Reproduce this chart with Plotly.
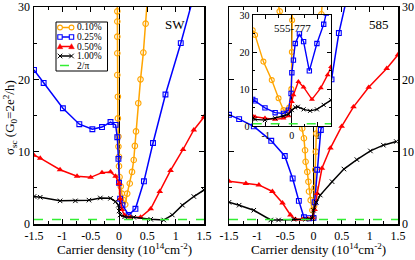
import numpy as np
import plotly.graph_objects as go

# ---------------- data ----------------
# Left panel: SW
sw_010_x = [-0.03, -0.03, -0.03, -0.03, -0.03, -0.03, -0.02, -0.02, -0.01, -0.01, 0.0, 0.0, 0.01, 0.03,
            0.05, 0.08, 0.11, 0.145, 0.19, 0.23, 0.26, 0.28, 0.30, 0.34, 0.38, 0.43, 0.47, 0.50]
sw_010_y = [31.0, 29.4, 28.0, 25.9, 23.6, 20.6, 17.6, 14.6, 12.1, 10.7, 9.3, 8.0, 6.5, 5.2,
            4.2, 3.3, 2.7, 4.2, 5.6, 7.2, 8.85, 10.8, 12.8, 16.7, 20.0, 23.7, 27.7, 31.0]
sw_025_x = [-1.5, -1.33, -0.99, -0.70, -0.47, -0.30, -0.15, -0.06, -0.03, -0.01, 0.0, 0.02, 0.06,
            0.17, 0.29, 0.44, 0.60, 0.82, 1.09, 1.30]
sw_025_y = [21.3, 19.5, 16.0, 13.8, 13.1, 13.4, 14.1, 13.7, 12.0, 9.0, 5.7, 3.5, 2.6,
            1.25, 2.1, 5.9, 11.2, 17.9, 25.0, 31.0]
sw_050_x = [-1.5, -1.39, -1.04, -0.74, -0.5, -0.3, -0.15, -0.06, 0.0, 0.02, 0.05, 0.1, 0.2, 0.38,
            0.56, 0.72, 0.91, 1.13, 1.32, 1.5]
sw_050_y = [9.5, 9.1, 7.5, 6.6, 6.45, 7.1, 7.2, 6.6, 5.6, 3.5, 2.0, 1.2, 0.93, 0.93,
            2.1, 4.5, 7.4, 10.3, 13.0, 14.8]
sw_100_x = [-1.5, -1.39, -1.04, -0.77, -0.53, -0.33, -0.15, -0.06, -0.01, 0.0, 0.02, 0.1, 0.26,
            0.56, 0.79, 0.94, 1.12, 1.32, 1.5]
sw_100_y = [3.8, 3.7, 3.2, 3.2, 3.3, 3.6, 3.55, 3.1, 2.6, 1.8, 1.25, 1.0, 0.93,
            0.65, 0.55, 1.25, 2.6, 3.8, 4.7]

# Right panel: 585
d585_010_x = [-0.64, -0.60, -0.20, -0.17, -0.15, -0.14, -0.11, -0.09, -0.08, -0.05, -0.02, 0.0,
              0.01, 0.02, 0.03, 0.04, 0.05, 0.14, 0.16]
d585_010_y = [31.0, 29.4, 13.2, 11.85, 10.2, 8.6, 7.2, 5.85, 4.5, 3.3, 1.9, 0.9,
              2.5, 5.0, 7.5, 10.0, 12.5, 29.0, 31.0]
d585_025_x = [-1.5, -1.32, -1.06, -0.75, -0.51, -0.37, -0.26, -0.17, -0.08, 0.0, 0.02, 0.065,
              0.13, 0.32, 0.45, 0.57]
d585_025_y = [15.1, 14.5, 13.5, 11.5, 9.4, 6.3, 3.2, 0.93, 0.8, 0.85, 3.0, 7.5,
              13.0, 20.0, 26.4, 30.5]
d585_050_x = [-1.5, -1.2, -0.97, -0.73, -0.55, -0.41, -0.32, -0.2, -0.1, -0.02, 0.02, 0.065,
              0.15, 0.3, 0.5, 0.71, 0.98, 1.3, 1.5]
d585_050_y = [5.9, 5.6, 5.4, 4.5, 2.9, 1.25, 0.65, 0.65, 0.7, 0.9, 2.0, 4.2,
              7.7, 10.5, 13.5, 16.2, 18.9, 21.5, 23.4]
d585_100_x = [-1.5, -1.32, -1.06, -0.76, -0.62, -0.35, -0.14, -0.02, 0.0, 0.05, 0.12, 0.33,
              0.54, 0.77, 1.01, 1.24, 1.47]
d585_100_y = [3.0, 2.6, 1.9, 0.55, 0.55, 0.65, 0.65, 0.8, 1.9, 3.0, 4.0, 5.85,
              7.6, 8.9, 10.1, 10.9, 11.4]

# Inset: 555-777
d555_010_x = [-1.5, -1.41, -1.09, -0.77, -0.51, -0.32, -0.19, -0.1, -0.02, 0.0, 0.01, 0.02]
d555_010_y = [25.9, 24.6, 17.4, 12.4, 7.5, 4.3, 3.9, 5.0, 10.0, 20.0, 28.6, 31.0]
d555_025_x = [-1.5, -1.41, -1.03, -0.64, -0.32, -0.13, -0.03, 0.0, 0.06, 0.13, 0.29, 0.45,
              0.67, 0.96, 1.22, 1.32]
d555_025_y = [7.2, 6.8, 4.9, 3.6, 3.4, 4.3, 8.8, 14.4, 17.8, 22.3, 24.9, 22.8,
              14.9, 22.3, 27.5, 30.5]
d555_050_x = [-1.5, -1.41, -1.03, -0.64, -0.32, -0.13, 0.0, 0.06, 0.25, 0.45, 0.77, 1.11, 1.37, 1.5]
d555_050_y = [2.7, 2.5, 2.1, 1.8, 2.1, 2.7, 6.6, 8.4, 12.0, 10.5, 7.2, 10.3, 13.8, 16.0]
d555_100_x = [-1.5, -1.41, -1.03, -0.64, -0.32, -0.13, 0.0, 0.13, 0.23, 0.45, 0.7, 0.96, 1.22, 1.5]
d555_100_y = [2.1, 1.8, 1.6, 2.1, 2.7, 3.2, 4.3, 5.0, 5.2, 4.5, 4.1, 4.5, 5.7, 7.0]

ref_level = 2 / np.pi  # 2/pi reference conductivity

series_labels = ["0.10%", "0.25%", "0.50%", "1.00%"]
ref_label = "2/π"
panel_labels = ["SW", "585", "555-777"]

x_tick_vals = [-1.5, -1.0, -0.5, 0.0, 0.5, 1.0, 1.5]
x_tick_text = ["-1.5", "-1", "-0.5", "0", "0.5", "1", "1.5"]
y_tick_vals = [0, 10, 20, 30]
y_tick_text = ["0", "10", "20", "30"]
inset_x_tick_vals = [-1, 0, 1]
inset_x_tick_text = ["-1", "0", "1"]

# ---------------- styling ----------------
SERIF = "Liberation Serif, Times New Roman, serif"
W, H = 415, 260
colors = ["#FFA500", "#0000FF", "#FF0000", "#000000"]
green = "#33EE33"


def px_x(p):
    return p / W


def px_y(p):
    return (H - p) / H


def marker_style(i, small=False):
    s = 0.9 if small else 1.0
    if i == 0:
        return dict(symbol="circle-open", size=5.5 * s, color=colors[0], line=dict(width=1.1, color=colors[0]))
    if i == 1:
        return dict(symbol="square-open", size=4.8 * s, color=colors[1], line=dict(width=1.1, color=colors[1]))
    if i == 2:
        return dict(symbol="triangle-up", size=5.8 * s, color=colors[2], line=dict(width=0, color=colors[2]))
    return dict(symbol="x-thin", size=4.5 * s, color=colors[3], line=dict(width=1, color=colors[3]))


fig = go.Figure()

panels = [
    ("x", "y", [(sw_010_x, sw_010_y), (sw_025_x, sw_025_y), (sw_050_x, sw_050_y), (sw_100_x, sw_100_y)], False),
    ("x2", "y2", [(d585_010_x, d585_010_y), (d585_025_x, d585_025_y), (d585_050_x, d585_050_y),
                  (d585_100_x, d585_100_y)], False),
    ("x3", "y3", [(d555_010_x, d555_010_y), (d555_025_x, d555_025_y), (d555_050_x, d555_050_y),
                  (d555_100_x, d555_100_y)], True),
]
for xa, ya, data, small in panels:
    for i, (xs, ys) in enumerate(data):
        fig.add_trace(go.Scatter(
            x=xs, y=ys, xaxis=xa, yaxis=ya, mode="lines+markers",
            name=series_labels[i], showlegend=False,
            line=dict(color=colors[i], width=1.5 if not small else 1.4),
            marker=marker_style(i, small),
        ))

# ---------------- axes ----------------
main_y_dom = [px_y(224), px_y(7)]


def x_axis(domain, anchor, small=False):
    return dict(
        domain=domain, anchor=anchor, range=[-1.5, 1.5], showgrid=False,
        showline=True, linecolor="black", linewidth=1.5 if not small else 1.2, mirror="ticks",
        ticks="inside", ticklen=5 if not small else 4, tickwidth=1, tickcolor="black",
        tickmode="array",
        tickvals=inset_x_tick_vals if small else x_tick_vals,
        ticktext=inset_x_tick_text if small else x_tick_text,
        tickfont=dict(family=SERIF, size=10 if small else 12, color="black"),
        minor=dict(ticks="inside", ticklen=3 if not small else 2.5, tickwidth=1, tickcolor="black",
                   tickmode="array",
                   tickvals=[-0.5, 0.5] if small else [-1.25, -0.75, -0.25, 0.25, 0.75, 1.25]),
        zeroline=True, zerolinecolor="black", zerolinewidth=1,
        automargin=False, fixedrange=True,
    )


def y_axis(domain, anchor, side="left", small=False):
    return dict(
        domain=domain, anchor=anchor, range=[0, 30], side=side, showgrid=False,
        showline=True, linecolor="black", linewidth=1.5 if not small else 1.2, mirror="ticks",
        ticks="inside", ticklen=5 if not small else 4, tickwidth=1, tickcolor="black",
        tickmode="array", tickvals=y_tick_vals, ticktext=y_tick_text,
        tickfont=dict(family=SERIF, size=10 if small else 12, color="black"),
        minor=dict(ticks="inside", ticklen=3 if not small else 2.5, tickwidth=1, tickcolor="black",
                   tickmode="array", tickvals=[5, 15, 25]),
        zeroline=False, automargin=False, fixedrange=True,
    )


fig.update_layout(
    width=W, height=H,
    margin=dict(l=0, r=0, t=0, b=0),
    paper_bgcolor="#FFFFFF",
    plot_bgcolor="#FFFFFE",
    showlegend=False,
    font=dict(family=SERIF, size=12, color="black"),
    xaxis=x_axis([px_x(34), px_x(204)], "y"),
    yaxis=y_axis(main_y_dom, "x"),
    xaxis2=x_axis([px_x(229), px_x(398)], "y2"),
    yaxis2=y_axis(main_y_dom, "x2", side="right"),
    xaxis3=x_axis([px_x(252.7), px_x(331)], "y3", small=True),
    yaxis3=y_axis([px_y(126), px_y(15)], "x3", small=True),
)

# 2/pi reference lines
shapes = []
for xr, yr in [("x domain", "y"), ("x2 domain", "y2"), ("x3 domain", "y3")]:
    shapes.append(dict(type="line", xref=xr, yref=yr, x0=0, x1=1, y0=ref_level, y1=ref_level,
                       line=dict(color=green, width=1.5, dash="dash"), layer="above"))

# ---------------- manual compact legend ----------------
box_l, box_r, box_t, box_b = 56, 107.5, 22, 71
shapes.append(dict(type="rect", xref="paper", yref="paper", x0=px_x(box_l), x1=px_x(box_r),
                   y0=px_y(box_b), y1=px_y(box_t), line=dict(color="black", width=1),
                   fillcolor="white", layer="above"))
row_y = [27.5, 37, 46.5, 56, 65.5]
line_x0, line_x1, text_x = 60, 71.5, 75


def glyph(i, cx, cy):
    base = dict(xref="paper", yref="paper", xsizemode="pixel", ysizemode="pixel",
                xanchor=px_x(cx), yanchor=px_y(cy), layer="above")
    c = colors[i]
    if i == 0:
        return dict(base, type="circle", x0=-2.4, x1=2.4, y0=-2.4, y1=2.4,
                    line=dict(color=c, width=1.1), fillcolor="white")
    if i == 1:
        return dict(base, type="rect", x0=-2.2, x1=2.2, y0=-2.2, y1=2.2,
                    line=dict(color=c, width=1.1), fillcolor="white")
    if i == 2:
        return dict(base, type="path", path="M-2.8,-2.2 L2.8,-2.2 L0,2.8 Z",
                    line=dict(color=c, width=0.5), fillcolor=c)
    return dict(base, type="path", path="M-2.3,-2.3 L2.3,2.3 M-2.3,2.3 L2.3,-2.3",
                line=dict(color=c, width=1))


annotations = []
for i, lab in enumerate(series_labels + [ref_label]):
    cy = row_y[i]
    if i < 4:
        shapes.append(dict(type="line", xref="paper", yref="paper", x0=px_x(line_x0), x1=px_x(line_x1),
                           y0=px_y(cy), y1=px_y(cy), line=dict(color=colors[i], width=1.5), layer="above"))
        shapes.append(glyph(i, line_x0, cy))
        shapes.append(glyph(i, line_x1, cy))
    else:
        shapes.append(dict(type="line", xref="paper", yref="paper", x0=px_x(line_x0), x1=px_x(line_x1),
                           y0=px_y(cy), y1=px_y(cy), line=dict(color=green, width=1.5, dash="dash"),
                           layer="above"))
    annotations.append(dict(text=lab, xref="paper", yref="paper", x=px_x(text_x), y=px_y(cy),
                            xanchor="left", yanchor="middle", showarrow=False,
                            font=dict(family=SERIF, size=9.5, color="black")))

# panel labels
annotations.append(dict(text=panel_labels[0], xref="paper", yref="paper", x=px_x(175), y=px_y(24),
                        xanchor="center", yanchor="middle", showarrow=False,
                        font=dict(family=SERIF, size=13, color="black")))
annotations.append(dict(text=panel_labels[1], xref="paper", yref="paper", x=px_x(379), y=px_y(24),
                        xanchor="center", yanchor="middle", showarrow=False,
                        font=dict(family=SERIF, size=13, color="black")))
annotations.append(dict(text=panel_labels[2], xref="paper", yref="paper", x=px_x(292), y=px_y(28),
                        xanchor="center", yanchor="middle", showarrow=False,
                        font=dict(family=SERIF, size=11, color="black")))

# axis titles
x_title = "Carrier density (10<sup>14</sup>cm<sup>-2</sup>)"
for cx in (124, 318):
    annotations.append(dict(text=x_title, xref="paper", yref="paper", x=px_x(cx), y=px_y(249),
                            xanchor="center", yanchor="middle", showarrow=False,
                            font=dict(family=SERIF, size=13, color="black")))
annotations.append(dict(text="σ<sub>sc</sub> (G<sub>0</sub>=2e<sup>2</sup>/h)", xref="paper", yref="paper",
                        x=px_x(10), y=px_y(118), xanchor="center", yanchor="middle", textangle=-90,
                        showarrow=False, font=dict(family=SERIF, size=13, color="black")))

fig.update_layout(shapes=shapes, annotations=annotations)

fig.write_html("out.html",
               config={"displayModeBar": False, "staticPlot": True},
               post_script="document.body.style.margin='0';document.body.style.overflow='hidden';")
